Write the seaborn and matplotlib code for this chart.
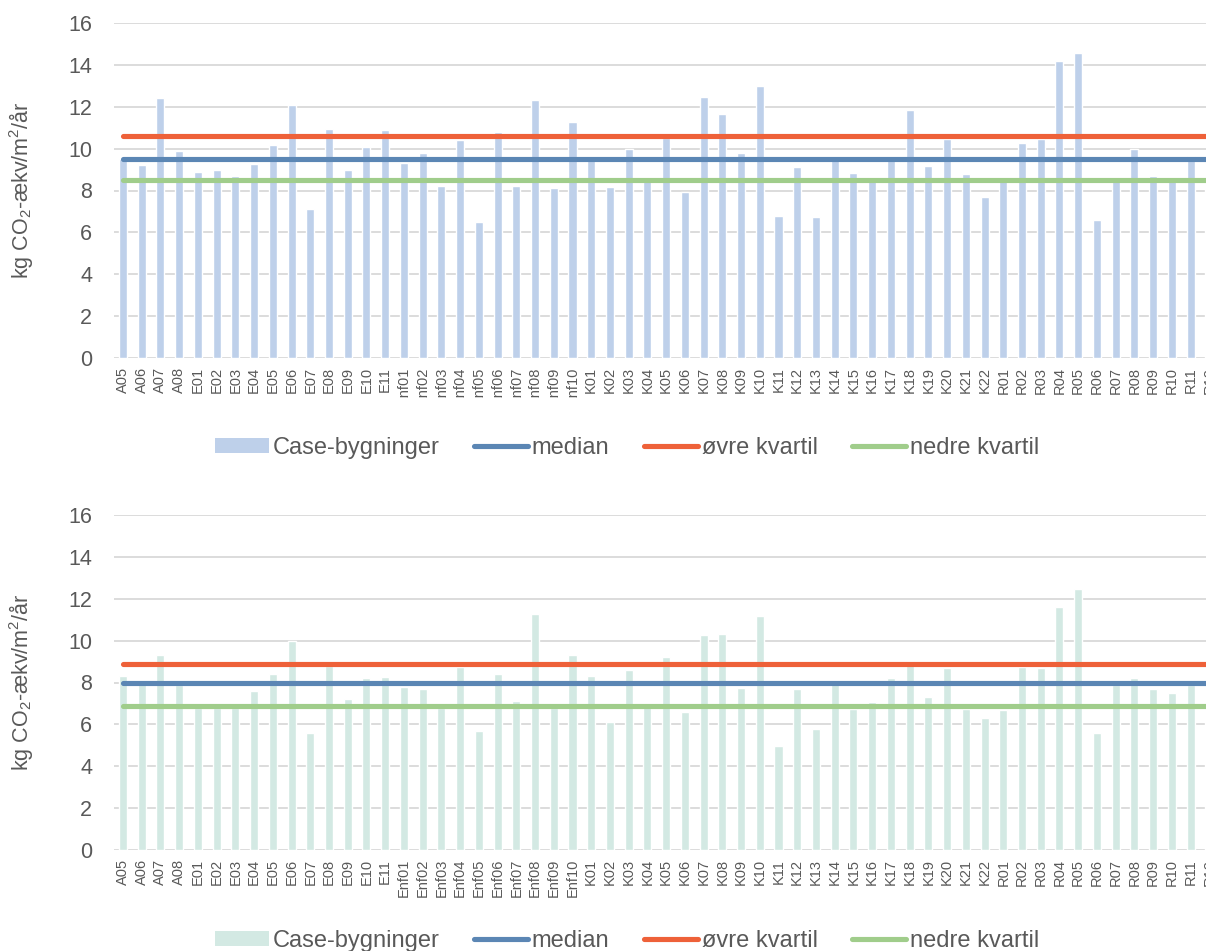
import matplotlib
matplotlib.use("Agg")
import matplotlib.pyplot as plt
import matplotlib.transforms as mtransforms
from matplotlib.lines import Line2D
from matplotlib.patches import Patch
import pandas as pd
import seaborn as sns

# ---------------------------------------------------------------------------
# Data
# ---------------------------------------------------------------------------
categories = [
    "A05", "A06", "A07", "A08",
    "E01", "E02", "E03", "E04", "E05", "E06", "E07", "E08", "E09", "E10", "E11",
    "Enf01", "Enf02", "Enf03", "Enf04", "Enf05", "Enf06", "Enf07", "Enf08", "Enf09", "Enf10",
    "K01", "K02", "K03", "K04", "K05", "K06", "K07", "K08", "K09", "K10", "K11",
    "K12", "K13", "K14", "K15", "K16", "K17", "K18", "K19", "K20", "K21", "K22",
    "R01", "R02", "R03", "R04", "R05", "R06", "R07", "R08", "R09", "R10", "R11", "R12",
]

top_values = [
    9.5, 9.2, 12.4, 9.9,
    8.9, 9.0, 8.7, 9.25, 10.15, 12.1, 7.1, 10.95, 9.0, 10.1, 10.9,
    9.3, 9.8, 8.2, 10.4, 6.5, 10.8, 8.2, 12.3, 8.1, 11.25,
    9.45, 8.15, 10.0, 8.45, 10.5, 7.95, 12.45, 11.65, 9.8, 13.0, 6.8,
    9.1, 6.75, 9.45, 8.85, 8.45, 9.5, 11.85, 9.15, 10.45, 8.8, 7.7,
    8.45, 10.25, 10.45, 14.2, 14.55, 6.6, 8.45, 10.0, 8.7, 8.45, 9.65, 9.3,
]
top_median = 9.49
top_upper = 10.61
top_lower = 8.48

bottom_values = [
    8.3, 7.95, 9.3, 7.9,
    6.8, 6.8, 6.8, 7.6, 8.4, 10.0, 5.6, 8.8, 7.2, 8.2, 8.25,
    7.8, 7.7, 6.8, 8.75, 5.7, 8.4, 7.1, 11.25, 6.8, 9.3,
    8.3, 6.1, 8.6, 6.85, 9.2, 6.6, 10.25, 10.3, 7.75, 11.2, 4.95,
    7.7, 5.8, 7.95, 6.75, 7.05, 8.2, 9.05, 7.3, 8.7, 6.75, 6.3,
    6.7, 8.75, 8.7, 11.6, 12.45, 5.6, 7.9, 8.2, 7.7, 7.5, 7.9, 7.8,
]
bottom_median = 7.99
bottom_upper = 8.89
bottom_lower = 6.89

legend_labels = ["Case-bygninger", "median", "øvre kvartil", "nedre kvartil"]
y_label = "kg CO$_2$-ækv/m$^2$/år"

# ---------------------------------------------------------------------------
# Style
# ---------------------------------------------------------------------------
TOP_BAR = "#BED0EA"
BOTTOM_BAR = "#D3E9E3"
MEDIAN_C = "#5B86B4"
UPPER_C = "#EE6139"
LOWER_C = "#A0CD8B"
TEXT_C = "#595959"
GRID_C = "#D9D9D9"

sns.set_theme(style="white")
plt.rcParams["font.family"] = ["Liberation Sans", "DejaVu Sans"]
plt.rcParams["mathtext.fontset"] = "custom"
plt.rcParams["mathtext.rm"] = "Liberation Sans"
plt.rcParams["mathtext.it"] = "Liberation Sans"

W, H = 1206, 951
fig = plt.figure(figsize=(W / 100, H / 100), dpi=100)
fig.patch.set_facecolor("white")

n = len(categories)
slot = 18.73  # px per category
ax_left = 113.6
ax_width = n * slot
ax_height = 335


def draw_panel(ax, values, bar_color, median, upper, lower, legend_y, clip_bottom=None):
    df = pd.DataFrame({"building": categories, "value": values})
    sns.barplot(data=df, x="building", y="value", color=bar_color, saturation=1,
                width=0.43, ax=ax, zorder=2)

    last = len(categories) - 1
    for val, col in [(median, MEDIAN_C), (upper, UPPER_C), (lower, LOWER_C)]:
        ax.plot([0, last], [val, val], color=col, linewidth=3.7,
                solid_capstyle="round", zorder=3)

    ax.set_xlim(-0.5, n - 0.5)
    ax.set_ylim(0, 16)
    ax.set_yticks(range(0, 17, 2))
    ax.set_xticks(range(n))
    ax.set_xticklabels(categories, rotation=90, fontsize=10.5, color=TEXT_C)
    ax.tick_params(axis="y", length=0, pad=15.5, labelsize=15.5, labelcolor=TEXT_C)
    ax.tick_params(axis="x", length=0, pad=6.5)
    ax.grid(axis="y", color=GRID_C, linewidth=1.3, zorder=0)
    ax.set_axisbelow(True)
    for s in ax.spines.values():
        s.set_visible(False)
    ax.set_xlabel("")
    ax.set_ylabel(y_label, fontsize=15.5, color=TEXT_C)
    trans = mtransforms.blended_transform_factory(fig.transFigure, ax.transAxes)
    ax.yaxis.set_label_coords(35 / W, 0.5, transform=trans)

    if clip_bottom is not None:
        box = mtransforms.TransformedBbox(
            mtransforms.Bbox([[0, 1 - clip_bottom / H], [1, 1]]), fig.transFigure)
        for lbl in ax.get_xticklabels():
            lbl.set_clip_box(box)
            lbl.set_clip_on(True)

    handles = [
        Patch(facecolor=bar_color, edgecolor="none"),
        Line2D([], [], color=MEDIAN_C, linewidth=3.7, solid_capstyle="round"),
        Line2D([], [], color=UPPER_C, linewidth=3.7, solid_capstyle="round"),
        Line2D([], [], color=LOWER_C, linewidth=3.7, solid_capstyle="round"),
    ]
    fig.legend(handles, legend_labels, loc="center",
               bbox_to_anchor=(627 / W, 1 - legend_y / H), ncol=4, frameon=False,
               fontsize=17, labelcolor=TEXT_C, handlelength=2.3, handleheight=0.6,
               handletextpad=0.15, columnspacing=1.45)


ax_top = fig.add_axes([ax_left / W, 1 - 358 / H, ax_width / W, ax_height / H])
draw_panel(ax_top, top_values, TOP_BAR, top_median, top_upper, top_lower,
           legend_y=448, clip_bottom=398)

ax_bot = fig.add_axes([ax_left / W, 1 - 850 / H, ax_width / W, ax_height / H])
draw_panel(ax_bot, bottom_values, BOTTOM_BAR, bottom_median, bottom_upper, bottom_lower,
           legend_y=941)

fig.savefig("out.png", dpi=100)
plt.close(fig)
